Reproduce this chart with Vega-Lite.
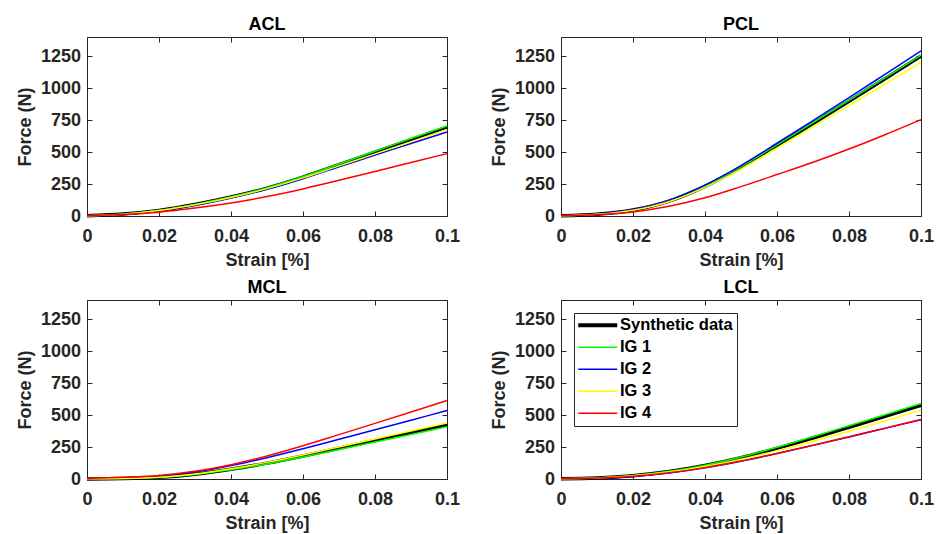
{
"$schema":"https://vega.github.io/schema/vega-lite/v6.json",
"background":"white",
"padding":{"left":15,"top":15,"right":5,"bottom":5},
"data":{"values":[
{"ligament":"ACL","series":"Synthetic data","strain":0,"force":2},{"ligament":"ACL","series":"Synthetic data","strain":0.01,"force":15},{"ligament":"ACL","series":"Synthetic data","strain":0.02,"force":44},{"ligament":"ACL","series":"Synthetic data","strain":0.03,"force":90},{"ligament":"ACL","series":"Synthetic data","strain":0.04,"force":148},{"ligament":"ACL","series":"Synthetic data","strain":0.05,"force":218},{"ligament":"ACL","series":"Synthetic data","strain":0.06,"force":304},{"ligament":"ACL","series":"Synthetic data","strain":0.07,"force":401},{"ligament":"ACL","series":"Synthetic data","strain":0.08,"force":499},{"ligament":"ACL","series":"Synthetic data","strain":0.09,"force":597},{"ligament":"ACL","series":"Synthetic data","strain":0.1,"force":694},
{"ligament":"ACL","series":"IG 1","strain":0,"force":2},{"ligament":"ACL","series":"IG 1","strain":0.01,"force":15},{"ligament":"ACL","series":"IG 1","strain":0.02,"force":45},{"ligament":"ACL","series":"IG 1","strain":0.03,"force":91},{"ligament":"ACL","series":"IG 1","strain":0.04,"force":150},{"ligament":"ACL","series":"IG 1","strain":0.05,"force":221},{"ligament":"ACL","series":"IG 1","strain":0.06,"force":309},{"ligament":"ACL","series":"IG 1","strain":0.07,"force":407},{"ligament":"ACL","series":"IG 1","strain":0.08,"force":506},{"ligament":"ACL","series":"IG 1","strain":0.09,"force":606},{"ligament":"ACL","series":"IG 1","strain":0.1,"force":704},
{"ligament":"ACL","series":"IG 2","strain":0,"force":1},{"ligament":"ACL","series":"IG 2","strain":0.01,"force":13},{"ligament":"ACL","series":"IG 2","strain":0.02,"force":41},{"ligament":"ACL","series":"IG 2","strain":0.03,"force":86},{"ligament":"ACL","series":"IG 2","strain":0.04,"force":142},{"ligament":"ACL","series":"IG 2","strain":0.05,"force":209},{"ligament":"ACL","series":"IG 2","strain":0.06,"force":292},{"ligament":"ACL","series":"IG 2","strain":0.07,"force":384},{"ligament":"ACL","series":"IG 2","strain":0.08,"force":477},{"ligament":"ACL","series":"IG 2","strain":0.09,"force":567},{"ligament":"ACL","series":"IG 2","strain":0.1,"force":657},
{"ligament":"ACL","series":"IG 3","strain":0,"force":1},{"ligament":"ACL","series":"IG 3","strain":0.01,"force":14},{"ligament":"ACL","series":"IG 3","strain":0.02,"force":43},{"ligament":"ACL","series":"IG 3","strain":0.03,"force":88},{"ligament":"ACL","series":"IG 3","strain":0.04,"force":145},{"ligament":"ACL","series":"IG 3","strain":0.05,"force":214},{"ligament":"ACL","series":"IG 3","strain":0.06,"force":298},{"ligament":"ACL","series":"IG 3","strain":0.07,"force":392},{"ligament":"ACL","series":"IG 3","strain":0.08,"force":486},{"ligament":"ACL","series":"IG 3","strain":0.09,"force":581},{"ligament":"ACL","series":"IG 3","strain":0.1,"force":676},
{"ligament":"ACL","series":"IG 4","strain":0,"force":3},{"ligament":"ACL","series":"IG 4","strain":0.01,"force":11},{"ligament":"ACL","series":"IG 4","strain":0.02,"force":30},{"ligament":"ACL","series":"IG 4","strain":0.03,"force":62},{"ligament":"ACL","series":"IG 4","strain":0.04,"force":102},{"ligament":"ACL","series":"IG 4","strain":0.05,"force":152},{"ligament":"ACL","series":"IG 4","strain":0.06,"force":212},{"ligament":"ACL","series":"IG 4","strain":0.07,"force":279},{"ligament":"ACL","series":"IG 4","strain":0.08,"force":348},{"ligament":"ACL","series":"IG 4","strain":0.09,"force":418},{"ligament":"ACL","series":"IG 4","strain":0.1,"force":488},
{"ligament":"PCL","series":"Synthetic data","strain":0,"force":2},{"ligament":"PCL","series":"Synthetic data","strain":0.01,"force":14},{"ligament":"PCL","series":"Synthetic data","strain":0.02,"force":47},{"ligament":"PCL","series":"Synthetic data","strain":0.03,"force":117},{"ligament":"PCL","series":"Synthetic data","strain":0.04,"force":232},{"ligament":"PCL","series":"Synthetic data","strain":0.05,"force":382},{"ligament":"PCL","series":"Synthetic data","strain":0.06,"force":552},{"ligament":"PCL","series":"Synthetic data","strain":0.07,"force":724},{"ligament":"PCL","series":"Synthetic data","strain":0.08,"force":898},{"ligament":"PCL","series":"Synthetic data","strain":0.09,"force":1074},{"ligament":"PCL","series":"Synthetic data","strain":0.1,"force":1251},
{"ligament":"PCL","series":"IG 1","strain":0,"force":2},{"ligament":"PCL","series":"IG 1","strain":0.01,"force":14},{"ligament":"PCL","series":"IG 1","strain":0.02,"force":48},{"ligament":"PCL","series":"IG 1","strain":0.03,"force":119},{"ligament":"PCL","series":"IG 1","strain":0.04,"force":235},{"ligament":"PCL","series":"IG 1","strain":0.05,"force":386},{"ligament":"PCL","series":"IG 1","strain":0.06,"force":557},{"ligament":"PCL","series":"IG 1","strain":0.07,"force":730},{"ligament":"PCL","series":"IG 1","strain":0.08,"force":905},{"ligament":"PCL","series":"IG 1","strain":0.09,"force":1081},{"ligament":"PCL","series":"IG 1","strain":0.1,"force":1258},
{"ligament":"PCL","series":"IG 2","strain":0,"force":1},{"ligament":"PCL","series":"IG 2","strain":0.01,"force":15},{"ligament":"PCL","series":"IG 2","strain":0.02,"force":50},{"ligament":"PCL","series":"IG 2","strain":0.03,"force":122},{"ligament":"PCL","series":"IG 2","strain":0.04,"force":242},{"ligament":"PCL","series":"IG 2","strain":0.05,"force":394},{"ligament":"PCL","series":"IG 2","strain":0.06,"force":569},{"ligament":"PCL","series":"IG 2","strain":0.07,"force":746},{"ligament":"PCL","series":"IG 2","strain":0.08,"force":925},{"ligament":"PCL","series":"IG 2","strain":0.09,"force":1108},{"ligament":"PCL","series":"IG 2","strain":0.1,"force":1292},
{"ligament":"PCL","series":"IG 3","strain":0,"force":1},{"ligament":"PCL","series":"IG 3","strain":0.01,"force":13},{"ligament":"PCL","series":"IG 3","strain":0.02,"force":45},{"ligament":"PCL","series":"IG 3","strain":0.03,"force":112},{"ligament":"PCL","series":"IG 3","strain":0.04,"force":224},{"ligament":"PCL","series":"IG 3","strain":0.05,"force":368},{"ligament":"PCL","series":"IG 3","strain":0.06,"force":532},{"ligament":"PCL","series":"IG 3","strain":0.07,"force":698},{"ligament":"PCL","series":"IG 3","strain":0.08,"force":864},{"ligament":"PCL","series":"IG 3","strain":0.09,"force":1032},{"ligament":"PCL","series":"IG 3","strain":0.1,"force":1202},
{"ligament":"PCL","series":"IG 4","strain":0,"force":3},{"ligament":"PCL","series":"IG 4","strain":0.01,"force":10},{"ligament":"PCL","series":"IG 4","strain":0.02,"force":31},{"ligament":"PCL","series":"IG 4","strain":0.03,"force":76},{"ligament":"PCL","series":"IG 4","strain":0.04,"force":142},{"ligament":"PCL","series":"IG 4","strain":0.05,"force":230},{"ligament":"PCL","series":"IG 4","strain":0.06,"force":324},{"ligament":"PCL","series":"IG 4","strain":0.07,"force":420},{"ligament":"PCL","series":"IG 4","strain":0.08,"force":524},{"ligament":"PCL","series":"IG 4","strain":0.09,"force":636},{"ligament":"PCL","series":"IG 4","strain":0.1,"force":754},
{"ligament":"MCL","series":"Synthetic data","strain":0,"force":0},{"ligament":"MCL","series":"Synthetic data","strain":0.01,"force":3},{"ligament":"MCL","series":"Synthetic data","strain":0.02,"force":13},{"ligament":"MCL","series":"Synthetic data","strain":0.03,"force":38},{"ligament":"MCL","series":"Synthetic data","strain":0.04,"force":76},{"ligament":"MCL","series":"Synthetic data","strain":0.05,"force":124},{"ligament":"MCL","series":"Synthetic data","strain":0.06,"force":180},{"ligament":"MCL","series":"Synthetic data","strain":0.07,"force":240},{"ligament":"MCL","series":"Synthetic data","strain":0.08,"force":301},{"ligament":"MCL","series":"Synthetic data","strain":0.09,"force":362},{"ligament":"MCL","series":"Synthetic data","strain":0.1,"force":423},
{"ligament":"MCL","series":"IG 1","strain":0,"force":0},{"ligament":"MCL","series":"IG 1","strain":0.01,"force":3},{"ligament":"MCL","series":"IG 1","strain":0.02,"force":12},{"ligament":"MCL","series":"IG 1","strain":0.03,"force":36},{"ligament":"MCL","series":"IG 1","strain":0.04,"force":72},{"ligament":"MCL","series":"IG 1","strain":0.05,"force":118},{"ligament":"MCL","series":"IG 1","strain":0.06,"force":172},{"ligament":"MCL","series":"IG 1","strain":0.07,"force":230},{"ligament":"MCL","series":"IG 1","strain":0.08,"force":289},{"ligament":"MCL","series":"IG 1","strain":0.09,"force":348},{"ligament":"MCL","series":"IG 1","strain":0.1,"force":408},
{"ligament":"MCL","series":"IG 2","strain":0,"force":2},{"ligament":"MCL","series":"IG 2","strain":0.01,"force":6},{"ligament":"MCL","series":"IG 2","strain":0.02,"force":21},{"ligament":"MCL","series":"IG 2","strain":0.03,"force":55},{"ligament":"MCL","series":"IG 2","strain":0.04,"force":105},{"ligament":"MCL","series":"IG 2","strain":0.05,"force":167},{"ligament":"MCL","series":"IG 2","strain":0.06,"force":237},{"ligament":"MCL","series":"IG 2","strain":0.07,"force":311},{"ligament":"MCL","series":"IG 2","strain":0.08,"force":385},{"ligament":"MCL","series":"IG 2","strain":0.09,"force":460},{"ligament":"MCL","series":"IG 2","strain":0.1,"force":535},
{"ligament":"MCL","series":"IG 3","strain":0,"force":1},{"ligament":"MCL","series":"IG 3","strain":0.01,"force":4},{"ligament":"MCL","series":"IG 3","strain":0.02,"force":14},{"ligament":"MCL","series":"IG 3","strain":0.03,"force":40},{"ligament":"MCL","series":"IG 3","strain":0.04,"force":80},{"ligament":"MCL","series":"IG 3","strain":0.05,"force":130},{"ligament":"MCL","series":"IG 3","strain":0.06,"force":188},{"ligament":"MCL","series":"IG 3","strain":0.07,"force":250},{"ligament":"MCL","series":"IG 3","strain":0.08,"force":313},{"ligament":"MCL","series":"IG 3","strain":0.09,"force":376},{"ligament":"MCL","series":"IG 3","strain":0.1,"force":438},
{"ligament":"MCL","series":"IG 4","strain":0,"force":4},{"ligament":"MCL","series":"IG 4","strain":0.01,"force":13},{"ligament":"MCL","series":"IG 4","strain":0.02,"force":28},{"ligament":"MCL","series":"IG 4","strain":0.03,"force":60},{"ligament":"MCL","series":"IG 4","strain":0.04,"force":112},{"ligament":"MCL","series":"IG 4","strain":0.05,"force":180},{"ligament":"MCL","series":"IG 4","strain":0.06,"force":260},{"ligament":"MCL","series":"IG 4","strain":0.07,"force":347},{"ligament":"MCL","series":"IG 4","strain":0.08,"force":435},{"ligament":"MCL","series":"IG 4","strain":0.09,"force":524},{"ligament":"MCL","series":"IG 4","strain":0.1,"force":614},
{"ligament":"LCL","series":"Synthetic data","strain":0,"force":2},{"ligament":"LCL","series":"Synthetic data","strain":0.01,"force":8},{"ligament":"LCL","series":"Synthetic data","strain":0.02,"force":26},{"ligament":"LCL","series":"Synthetic data","strain":0.03,"force":58},{"ligament":"LCL","series":"Synthetic data","strain":0.04,"force":105},{"ligament":"LCL","series":"Synthetic data","strain":0.05,"force":166},{"ligament":"LCL","series":"Synthetic data","strain":0.06,"force":240},{"ligament":"LCL","series":"Synthetic data","strain":0.07,"force":321},{"ligament":"LCL","series":"Synthetic data","strain":0.08,"force":405},{"ligament":"LCL","series":"Synthetic data","strain":0.09,"force":490},{"ligament":"LCL","series":"Synthetic data","strain":0.1,"force":576},
{"ligament":"LCL","series":"IG 1","strain":0,"force":2},{"ligament":"LCL","series":"IG 1","strain":0.01,"force":9},{"ligament":"LCL","series":"IG 1","strain":0.02,"force":27},{"ligament":"LCL","series":"IG 1","strain":0.03,"force":60},{"ligament":"LCL","series":"IG 1","strain":0.04,"force":108},{"ligament":"LCL","series":"IG 1","strain":0.05,"force":172},{"ligament":"LCL","series":"IG 1","strain":0.06,"force":248},{"ligament":"LCL","series":"IG 1","strain":0.07,"force":331},{"ligament":"LCL","series":"IG 1","strain":0.08,"force":417},{"ligament":"LCL","series":"IG 1","strain":0.09,"force":503},{"ligament":"LCL","series":"IG 1","strain":0.1,"force":590},
{"ligament":"LCL","series":"IG 2","strain":0,"force":2},{"ligament":"LCL","series":"IG 2","strain":0.01,"force":7},{"ligament":"LCL","series":"IG 2","strain":0.02,"force":20},{"ligament":"LCL","series":"IG 2","strain":0.03,"force":47},{"ligament":"LCL","series":"IG 2","strain":0.04,"force":87},{"ligament":"LCL","series":"IG 2","strain":0.05,"force":139},{"ligament":"LCL","series":"IG 2","strain":0.06,"force":199},{"ligament":"LCL","series":"IG 2","strain":0.07,"force":263},{"ligament":"LCL","series":"IG 2","strain":0.08,"force":329},{"ligament":"LCL","series":"IG 2","strain":0.09,"force":396},{"ligament":"LCL","series":"IG 2","strain":0.1,"force":463},
{"ligament":"LCL","series":"IG 3","strain":0,"force":2},{"ligament":"LCL","series":"IG 3","strain":0.01,"force":8},{"ligament":"LCL","series":"IG 3","strain":0.02,"force":25},{"ligament":"LCL","series":"IG 3","strain":0.03,"force":55},{"ligament":"LCL","series":"IG 3","strain":0.04,"force":98},{"ligament":"LCL","series":"IG 3","strain":0.05,"force":154},{"ligament":"LCL","series":"IG 3","strain":0.06,"force":222},{"ligament":"LCL","series":"IG 3","strain":0.07,"force":296},{"ligament":"LCL","series":"IG 3","strain":0.08,"force":374},{"ligament":"LCL","series":"IG 3","strain":0.09,"force":455},{"ligament":"LCL","series":"IG 3","strain":0.1,"force":537},
{"ligament":"LCL","series":"IG 4","strain":0,"force":3},{"ligament":"LCL","series":"IG 4","strain":0.01,"force":8},{"ligament":"LCL","series":"IG 4","strain":0.02,"force":21},{"ligament":"LCL","series":"IG 4","strain":0.03,"force":48},{"ligament":"LCL","series":"IG 4","strain":0.04,"force":88},{"ligament":"LCL","series":"IG 4","strain":0.05,"force":140},{"ligament":"LCL","series":"IG 4","strain":0.06,"force":200},{"ligament":"LCL","series":"IG 4","strain":0.07,"force":264},{"ligament":"LCL","series":"IG 4","strain":0.08,"force":330},{"ligament":"LCL","series":"IG 4","strain":0.09,"force":398},{"ligament":"LCL","series":"IG 4","strain":0.1,"force":466}
]},
"columns":2,
"bounds":"flush",
"spacing":{"row":84,"column":114},
"resolve":{"scale":{"color":"independent"},"legend":{"color":"independent"}},
"concat":[
{"title":"ACL","width":360,"height":179,"transform":[{"filter":"datum.ligament === 'ACL'"}],
 "layer":[
  {"layer":[
   {"transform":[{"filter":"datum.series === 'Synthetic data'"}],"mark":{"type":"line","interpolate":"monotone","strokeWidth":3.5},
    "encoding":{"x":{"field":"strain","type":"quantitative","scale":{"domain":[0,0.1],"nice":false,"zero":false},"axis":{"values":[0,0.02,0.04,0.06,0.08,0.1],"tickCount":12,"format":"~g","title":"Strain [%]"}},
     "y":{"field":"force","type":"quantitative","scale":{"domain":[0,1400],"nice":false},"axis":{"values":[0,250,500,750,1000,1250],"tickCount":12,"format":"d","title":"Force (N)"}},
     "color":{"field":"series","type":"nominal","scale":{"domain":["Synthetic data","IG 1","IG 2","IG 3","IG 4"],"range":["#000000","#00ff00","#0000ff","#ffff00","#ff0000"]},"legend":null}}},
   {"transform":[{"filter":"datum.series !== 'Synthetic data'"}],"mark":{"type":"line","interpolate":"monotone","strokeWidth":1.5},
    "encoding":{"x":{"field":"strain","type":"quantitative"},"y":{"field":"force","type":"quantitative"},
     "color":{"field":"series","type":"nominal","scale":{"domain":["Synthetic data","IG 1","IG 2","IG 3","IG 4"],"range":["#000000","#00ff00","#0000ff","#ffff00","#ff0000"]},"legend":null}}}
  ]},
  {"mark":{"type":"line","strokeOpacity":0},"encoding":{"x":{"field":"strain","type":"quantitative","axis":{"orient":"top","values":[0,0.02,0.04,0.06,0.08,0.1],"tickCount":12,"labels":false,"title":null}},"y":{"field":"force","type":"quantitative","axis":{"orient":"right","values":[0,250,500,750,1000,1250],"tickCount":12,"labels":false,"title":null}},"detail":{"field":"series"}}}
 ],
 "resolve":{"axis":{"x":"independent","y":"independent"}}},
{"title":"PCL","width":360,"height":179,"transform":[{"filter":"datum.ligament === 'PCL'"}],
 "layer":[
  {"layer":[
   {"transform":[{"filter":"datum.series === 'Synthetic data'"}],"mark":{"type":"line","interpolate":"monotone","strokeWidth":3.5},
    "encoding":{"x":{"field":"strain","type":"quantitative","scale":{"domain":[0,0.1],"nice":false,"zero":false},"axis":{"values":[0,0.02,0.04,0.06,0.08,0.1],"tickCount":12,"format":"~g","title":"Strain [%]"}},
     "y":{"field":"force","type":"quantitative","scale":{"domain":[0,1400],"nice":false},"axis":{"values":[0,250,500,750,1000,1250],"tickCount":12,"format":"d","title":"Force (N)"}},
     "color":{"field":"series","type":"nominal","scale":{"domain":["Synthetic data","IG 1","IG 2","IG 3","IG 4"],"range":["#000000","#00ff00","#0000ff","#ffff00","#ff0000"]},"legend":null}}},
   {"transform":[{"filter":"datum.series !== 'Synthetic data'"}],"mark":{"type":"line","interpolate":"monotone","strokeWidth":1.5},
    "encoding":{"x":{"field":"strain","type":"quantitative"},"y":{"field":"force","type":"quantitative"},
     "color":{"field":"series","type":"nominal","scale":{"domain":["Synthetic data","IG 1","IG 2","IG 3","IG 4"],"range":["#000000","#00ff00","#0000ff","#ffff00","#ff0000"]},"legend":null}}}
  ]},
  {"mark":{"type":"line","strokeOpacity":0},"encoding":{"x":{"field":"strain","type":"quantitative","axis":{"orient":"top","values":[0,0.02,0.04,0.06,0.08,0.1],"tickCount":12,"labels":false,"title":null}},"y":{"field":"force","type":"quantitative","axis":{"orient":"right","values":[0,250,500,750,1000,1250],"tickCount":12,"labels":false,"title":null}},"detail":{"field":"series"}}}
 ],
 "resolve":{"axis":{"x":"independent","y":"independent"}}},
{"title":"MCL","width":360,"height":179,"transform":[{"filter":"datum.ligament === 'MCL'"}],
 "layer":[
  {"layer":[
   {"transform":[{"filter":"datum.series === 'Synthetic data'"}],"mark":{"type":"line","interpolate":"monotone","strokeWidth":3.5},
    "encoding":{"x":{"field":"strain","type":"quantitative","scale":{"domain":[0,0.1],"nice":false,"zero":false},"axis":{"values":[0,0.02,0.04,0.06,0.08,0.1],"tickCount":12,"format":"~g","title":"Strain [%]"}},
     "y":{"field":"force","type":"quantitative","scale":{"domain":[0,1400],"nice":false},"axis":{"values":[0,250,500,750,1000,1250],"tickCount":12,"format":"d","title":"Force (N)"}},
     "color":{"field":"series","type":"nominal","scale":{"domain":["Synthetic data","IG 1","IG 2","IG 3","IG 4"],"range":["#000000","#00ff00","#0000ff","#ffff00","#ff0000"]},"legend":null}}},
   {"transform":[{"filter":"datum.series !== 'Synthetic data'"}],"mark":{"type":"line","interpolate":"monotone","strokeWidth":1.5},
    "encoding":{"x":{"field":"strain","type":"quantitative"},"y":{"field":"force","type":"quantitative"},
     "color":{"field":"series","type":"nominal","scale":{"domain":["Synthetic data","IG 1","IG 2","IG 3","IG 4"],"range":["#000000","#00ff00","#0000ff","#ffff00","#ff0000"]},"legend":null}}}
  ]},
  {"mark":{"type":"line","strokeOpacity":0},"encoding":{"x":{"field":"strain","type":"quantitative","axis":{"orient":"top","values":[0,0.02,0.04,0.06,0.08,0.1],"tickCount":12,"labels":false,"title":null}},"y":{"field":"force","type":"quantitative","axis":{"orient":"right","values":[0,250,500,750,1000,1250],"tickCount":12,"labels":false,"title":null}},"detail":{"field":"series"}}}
 ],
 "resolve":{"axis":{"x":"independent","y":"independent"}}},
{"title":"LCL","width":360,"height":179,"transform":[{"filter":"datum.ligament === 'LCL'"}],
 "layer":[
  {"layer":[
   {"transform":[{"filter":"datum.series === 'Synthetic data'"}],"mark":{"type":"line","interpolate":"monotone","strokeWidth":3.5},
    "encoding":{"x":{"field":"strain","type":"quantitative","scale":{"domain":[0,0.1],"nice":false,"zero":false},"axis":{"values":[0,0.02,0.04,0.06,0.08,0.1],"tickCount":12,"format":"~g","title":"Strain [%]"}},
     "y":{"field":"force","type":"quantitative","scale":{"domain":[0,1400],"nice":false},"axis":{"values":[0,250,500,750,1000,1250],"tickCount":12,"format":"d","title":"Force (N)"}},
     "color":{"field":"series","type":"nominal","scale":{"domain":["Synthetic data","IG 1","IG 2","IG 3","IG 4"],"range":["#000000","#00ff00","#0000ff","#ffff00","#ff0000"]},
      "legend":{"orient":"top-left","offset":13,"title":null,"symbolType":"stroke","symbolSize":1521,"symbolStrokeWidth":1.5,"symbolOffset":11.5,"strokeColor":"#262626","fillColor":"#ffffff","padding":4,"labelFont":"Liberation Sans","labelFontSize":16.5,"labelFontWeight":"bold","labelColor":"#000000","labelOffset":14,"rowPadding":5,"encode":{"symbols":{"update":{"strokeWidth":{"signal":"datum.value === 'Synthetic data' ? 4 : 1.5"}}}}}}}},
   {"transform":[{"filter":"datum.series !== 'Synthetic data'"}],"mark":{"type":"line","interpolate":"monotone","strokeWidth":1.5},
    "encoding":{"x":{"field":"strain","type":"quantitative"},"y":{"field":"force","type":"quantitative"},
     "color":{"field":"series","type":"nominal","scale":{"domain":["Synthetic data","IG 1","IG 2","IG 3","IG 4"],"range":["#000000","#00ff00","#0000ff","#ffff00","#ff0000"]},
      "legend":{"orient":"top-left","offset":13,"title":null,"symbolType":"stroke","symbolSize":1521,"symbolStrokeWidth":1.5,"symbolOffset":11.5,"strokeColor":"#262626","fillColor":"#ffffff","padding":4,"labelFont":"Liberation Sans","labelFontSize":16.5,"labelFontWeight":"bold","labelColor":"#000000","labelOffset":14,"rowPadding":5,"encode":{"symbols":{"update":{"strokeWidth":{"signal":"datum.value === 'Synthetic data' ? 4 : 1.5"}}}}}}}}
  ]},
  {"mark":{"type":"line","strokeOpacity":0},"encoding":{"x":{"field":"strain","type":"quantitative","axis":{"orient":"top","values":[0,0.02,0.04,0.06,0.08,0.1],"tickCount":12,"labels":false,"title":null}},"y":{"field":"force","type":"quantitative","axis":{"orient":"right","values":[0,250,500,750,1000,1250],"tickCount":12,"labels":false,"title":null}},"detail":{"field":"series"}}}
 ],
 "resolve":{"axis":{"x":"independent","y":"independent"}}}
],
"config":{
 "font":"Liberation Sans",
 "view":{"stroke":"#262626","strokeWidth":1},
 "title":{"font":"Liberation Sans","fontSize":18,"fontWeight":"bold","color":"#000000","baseline":"alphabetic","offset":2.5},
 "axis":{"labelFont":"Liberation Sans","labelFontSize":18,"labelFontWeight":"bold","labelColor":"#262626","titleFont":"Liberation Sans","titleFontSize":18,"titleFontWeight":"bold","titleColor":"#262626","domain":false,"grid":false,"tickColor":"#262626","tickWidth":1,"tickSize":-5,"labelFlush":false,"labelOverlap":false,"labelBound":false},
 "axisX":{"labelPadding":16,"titlePadding":6},
 "axisY":{"labelPadding":11.5,"titlePadding":6}
}
}
